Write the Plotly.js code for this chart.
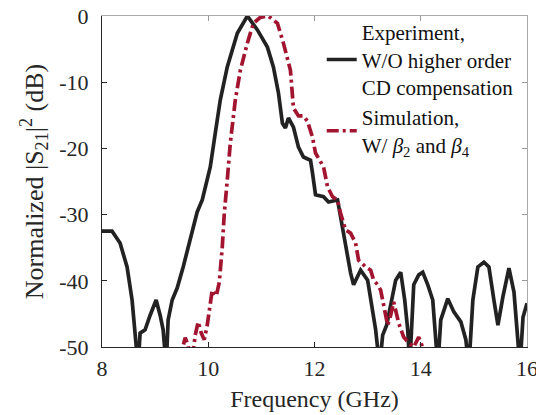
<!DOCTYPE html>
<html>
<head>
<meta charset="utf-8">
<script src="https://cdn.plot.ly/plotly-3.0.1.min.js"></script>
<style>html,body{margin:0;padding:0;background:#fff;}#chart{width:536px;height:415px;}</style>
</head>
<body>
<div id="chart"></div>
<script>
// Experiment, W/O higher order CD compensation
const freqExp = [8.000, 8.189, 8.340, 8.472, 8.566, 8.623, 8.679, 8.717, 8.811, 8.906, 9.019, 9.094, 9.151, 9.208, 9.245, 9.321, 9.415, 9.528, 9.660, 9.792, 9.887, 10.038, 10.132, 10.226, 10.358, 10.547, 10.736, 10.925, 11.113, 11.226, 11.321, 11.396, 11.453, 11.509, 11.604, 11.698, 11.792, 11.925, 11.962, 12.019, 12.170, 12.264, 12.434, 12.491, 12.585, 12.679, 12.736, 12.868, 13.000, 13.094, 13.151, 13.226, 13.283, 13.358, 13.453, 13.528, 13.623, 13.698, 13.755, 13.792, 13.868, 13.962, 14.038, 14.132, 14.226, 14.283, 14.321, 14.377, 14.509, 14.623, 14.755, 14.849, 14.906, 14.981, 15.075, 15.189, 15.283, 15.377, 15.453, 15.547, 15.660, 15.755, 15.830, 15.868, 15.925, 16.000];
const s21Exp = [-32.5, -32.5, -34.3, -37.9, -42.9, -47.9, -53, -47.9, -47.4, -45.2, -42.9, -45.2, -47.4, -53, -45.9, -42.9, -41.1, -37.9, -33.8, -29.6, -27.8, -22.8, -17.7, -12.7, -7.7, -2.6, 0, -2.1, -4.7, -7.7, -11.6, -16.2, -16.9, -15.4, -16.8, -19.8, -21.3, -21.8, -23.7, -27.0, -27.3, -28.1, -27.8, -30.4, -35.3, -38.8, -40.6, -38.4, -39.9, -44.4, -47.4, -53, -48.2, -46.7, -42.9, -39.9, -38.7, -42.9, -47.4, -53, -40.6, -39.1, -38.7, -40.6, -42.9, -48.9, -53, -45.9, -42.7, -44.7, -46.2, -48.9, -53, -42.9, -37.9, -37.2, -37.9, -42.9, -46.7, -42.4, -38.1, -41.7, -49.4, -53, -45.5, -43.4];

// Simulation, W/ beta2 and beta4
const freqSim = [9.430, 9.566, 9.623, 9.680, 9.755, 9.811, 9.868, 9.925, 9.981, 10.075, 10.151, 10.208, 10.264, 10.302, 10.358, 10.415, 10.509, 10.604, 10.736, 10.849, 10.981, 11.132, 11.302, 11.415, 11.547, 11.604, 11.698, 11.792, 11.868, 11.962, 12.019, 12.094, 12.170, 12.245, 12.340, 12.434, 12.491, 12.585, 12.679, 12.774, 12.830, 12.962, 13.057, 13.113, 13.189, 13.245, 13.302, 13.377, 13.434, 13.491, 13.585, 13.679, 13.774, 13.868, 13.962, 14.019, 14.075];
const s21Sim = [-53, -48.6, -49.8, -53, -48.2, -46.2, -47.9, -48.9, -46.7, -41.4, -42.3, -40.2, -34.9, -29.8, -24.8, -19.2, -12.7, -8.2, -4.1, -1.1, -0.2, 0, -1.1, -4.1, -8.2, -13.9, -15.1, -15.1, -15.9, -18.3, -20.7, -21.8, -22.8, -25.8, -27.3, -27.8, -29.8, -32.3, -32.8, -34.3, -36.9, -37.9, -38.4, -39.9, -40.6, -41.4, -44.0, -46.7, -45.2, -43.2, -46.4, -48.5, -49.4, -50.0, -48.5, -49.7, -53];

const xTicks = [8, 10, 12, 14, 16];
const xTickLabels = ['8', '10', '12', '14', '16'];
const yTicks = [-50, -40, -30, -20, -10, 0];
const yTickLabels = ['-50', '-40', '-30', '-20', '-10', '0'];

const FONT = 'Liberation Serif';

const traces = [
  {
    x: freqExp, y: s21Exp, mode: 'lines', type: 'scatter',
    name: 'Experiment,<br>W/O higher order<br>CD compensation',
    line: {color: '#222222', width: 3.7}
  },
  {
    x: freqSim, y: s21Sim, mode: 'lines', type: 'scatter',
    name: 'Simulation,<br>W/ <i>β</i><sub>2</sub> and <i>β</i><sub>4</sub>',
    line: {color: '#A2142F', width: 3.7, dash: '12px,4px,3px,4px'}
  },
  {
    x: [], y: [], xaxis: 'x2', yaxis: 'y2', type: 'scatter', mode: 'lines',
    showlegend: false, hoverinfo: 'skip'
  }
];

const layout = {
  width: 536, height: 415,
  margin: {l: 102, r: 9, t: 16, b: 68},
  paper_bgcolor: '#ffffff', plot_bgcolor: '#ffffff',
  font: {family: FONT, color: '#262626', size: 22},
  showlegend: true,
  legend: {
    x: 0.517, y: 1.012, xanchor: 'left', yanchor: 'top',
    bgcolor: 'rgba(0,0,0,0)', borderwidth: 0,
    font: {family: FONT, size: 21, color: '#111'},
    tracegroupgap: 0, itemwidth: 30
  },
  xaxis: {
    range: [8, 16], tickvals: xTicks, ticktext: xTickLabels,
    ticks: 'inside', ticklen: 5, tickcolor: '#262626', tickwidth: 1,
    showline: true, linecolor: '#262626', linewidth: 1,
    showgrid: false, zeroline: false, automargin: false,
    ticklabeloverflow: 'allow',
    tickfont: {family: FONT, size: 22, color: '#262626'},
    ticklabelstandoff: 2,
    title: {text: 'Frequency (GHz)', font: {family: FONT, size: 24, color: '#262626'}, standoff: 9}
  },
  yaxis: {
    range: [-50, 0], tickvals: yTicks, ticktext: yTickLabels,
    ticks: 'inside', ticklen: 5, tickcolor: '#262626', tickwidth: 1,
    showline: true, linecolor: '#262626', linewidth: 1,
    showgrid: false, zeroline: false, automargin: false,
    ticklabeloverflow: 'allow',
    tickfont: {family: FONT, size: 22, color: '#262626'},
    ticklabelstandoff: 8,
    title: {text: 'Normalized |S<sub>21</sub>|<sup>2</sup> (dB)', font: {family: FONT, size: 26, color: '#262626'}, standoff: 8}
  },
  xaxis2: {
    overlaying: 'x', side: 'top', anchor: 'y', range: [8, 16], tickvals: xTicks,
    showticklabels: false, ticks: 'inside', ticklen: 5, tickcolor: '#999999',
    showline: true, linecolor: '#aaaaaa', linewidth: 1, showgrid: false, zeroline: false
  },
  yaxis2: {
    overlaying: 'y', side: 'right', anchor: 'x', range: [-50, 0], tickvals: yTicks,
    showticklabels: false, ticks: 'inside', ticklen: 5, tickcolor: '#999999',
    showline: true, linecolor: '#aaaaaa', linewidth: 1, showgrid: false, zeroline: false
  }
};

Plotly.newPlot('chart', traces, layout, {displayModeBar: false, staticPlot: true});
</script>
</body>
</html>
